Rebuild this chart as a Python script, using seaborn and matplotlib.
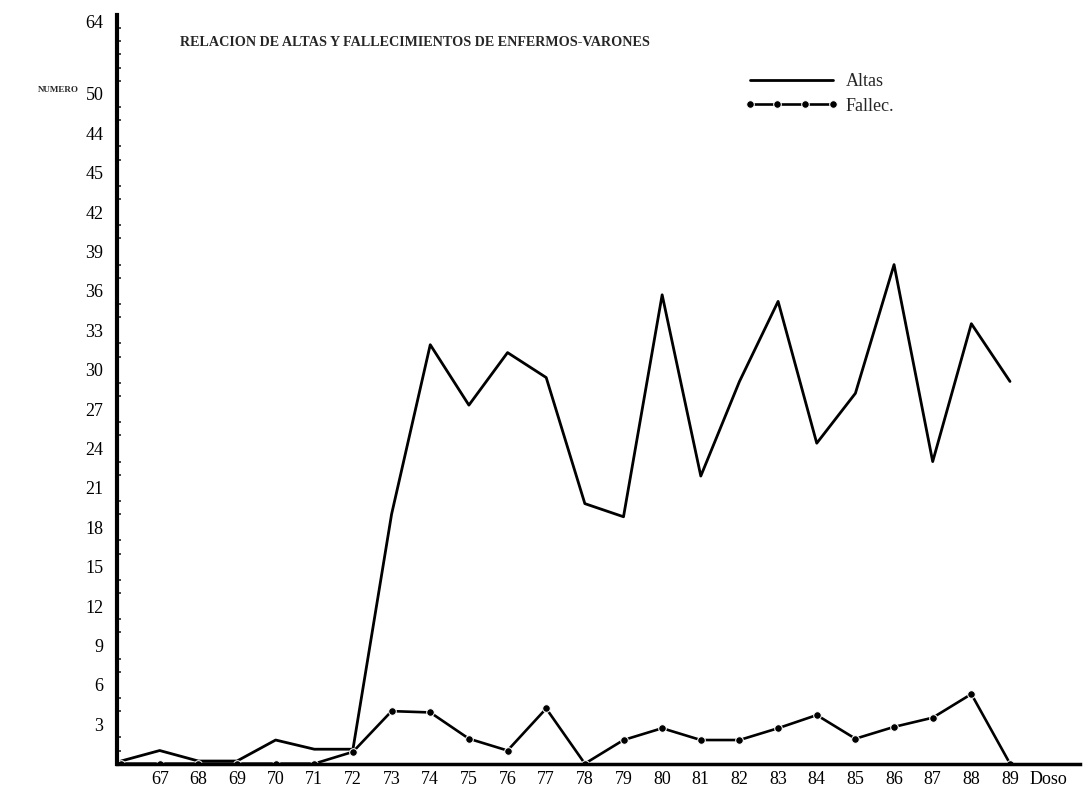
import matplotlib
matplotlib.use("Agg")
import matplotlib.pyplot as plt
import numpy as np
import pandas as pd
import seaborn as sns

# ---- data ----
years = list(range(66, 90))
altas = [0.2, 1.0, 0.2, 0.2, 1.8, 1.1, 1.1, 19.0, 31.9, 27.3, 31.3, 29.4,
         19.8, 18.8, 35.7, 21.9, 29.1, 35.2, 24.4, 28.2, 38.0, 23.0, 33.5, 29.1]
fallec = [0.0, 0.0, 0.0, 0.0, 0.0, 0.0, 0.9, 4.0, 3.9, 1.9, 1.0, 4.2,
          0.0, 1.8, 2.7, 1.8, 1.8, 2.7, 3.7, 1.9, 2.8, 3.5, 5.3, 0.0]

x_tick_pos = list(range(67, 91))
x_tick_labels = [str(v) for v in range(67, 90)] + ["Doso"]
y_tick_pos = [3, 6, 9, 12, 15, 18, 21, 24, 27, 30, 33, 36, 39, 42, 45, 48, 51, 56.5]
y_tick_labels = ["3", "6", "9", "12", "15", "18", "21", "24", "27", "30", "33",
                 "36", "39", "42", "45", "44", "50", "64"]

title = "RELACION DE ALTAS Y FALLECIMIENTOS DE ENFERMOS-VARONES"
series_names = ["Altas", "Fallec."]
y_label = "NUMERO"

df = pd.DataFrame({"year": years, "Altas": altas, "Fallec": fallec})

sns.set_style("white")
plt.rcParams["font.family"] = ["Liberation Serif", "DejaVu Serif"]

fig = plt.figure(figsize=(10.85, 7.93), dpi=100)
ax = fig.add_axes([0.108, 0.037, 0.887, 0.944])

sns.lineplot(data=df, x="year", y="Altas", ax=ax, color="black", lw=2.0,
             label=series_names[0])
sns.lineplot(data=df, x="year", y="Fallec", ax=ax, color="black", lw=1.9,
             marker="o", markersize=5.5, label=series_names[1])

ax.set_xlim(65.9, 90.8)
ax.set_ylim(0, 57)

ax.set_xticks(x_tick_pos)
ax.set_xticklabels(x_tick_labels)
ax.set_yticks(y_tick_pos)
ax.set_yticklabels(y_tick_labels)
ax.set_yticks(np.arange(1, 57, 1), minor=True)

ax.tick_params(axis="both", which="major", direction="in", length=6, width=1.5,
               labelsize=13, colors="black")
ax.tick_params(axis="x", pad=5)
ax.tick_params(axis="y", pad=10)
ax.tick_params(axis="y", which="minor", direction="in", length=3, width=1.2,
               left=True)

for side in ["top", "right"]:
    ax.spines[side].set_visible(False)
ax.spines["left"].set_linewidth(3)
ax.spines["bottom"].set_linewidth(2.5)
ax.spines["left"].set_color("black")
ax.spines["bottom"].set_color("black")
ax.set_xlabel("")
ax.set_ylabel("")

ax.legend().remove()
handles, labels = ax.get_legend_handles_labels()
fig.legend(handles, labels, loc="upper left", bbox_to_anchor=(0.671, 0.928),
           frameon=False, fontsize=13, handlelength=5.2, handletextpad=0.4,
           labelspacing=0.4, numpoints=4)

fig.text(180 / 1085, 1 - 43 / 793, title, fontsize=10.2, fontweight="bold",
         va="center", ha="left")
fig.text(38 / 1085, 1 - 90 / 793, y_label, fontsize=6.5, fontweight="bold",
         va="center", ha="left")

fig.savefig("out.png", dpi=100, facecolor="white")
